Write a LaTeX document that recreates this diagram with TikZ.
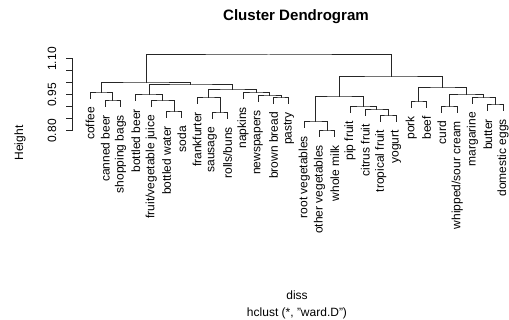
\documentclass[tikz,border=0pt]{standalone}
\usepackage{fontspec}
\setmainfont{Liberation Sans}
\tikzset{
  branch/.style={draw=black!85, line width=0.75pt},
  lab/.style={rotate=90, anchor=east, inner sep=0pt, font=\fontsize{9}{10}\selectfont},
  axlab/.style={rotate=90, inner sep=0pt, font=\fontsize{9}{10}\selectfont},
  ttl/.style={inner sep=0pt, font=\fontsize{11.3}{13}\selectfont\bfseries},
  sub/.style={inner sep=0pt, font=\fontsize{9}{10}\selectfont}
}
\newcommand\leafpt[4]{\coordinate (#1) at (#2,#3); \node[lab] (#1-t) at (#2,#3+8) {#4};}
\begin{document}
\begin{tikzpicture}[x=0.75pt,y=-0.75pt]
\useasboundingbox (0,0) rectangle (509,320);
% title and captions
\node[ttl] (title) at (296,17) {Cluster Dendrogram};
\node[sub] (diss) at (297,295) {diss};
\node[sub] (meth) at (297,313) {hclust (*, "ward.D")};
% axis
\node[axlab] (ylab) at (20,143) {Height};
\draw[branch] (72.7,59) -- (72.7,131);
\foreach \yy in {59,71,83,95,107,119,131} \draw[branch] (66,\yy) -- (72.7,\yy);
\node[axlab] (t110) at (52,59) {1.10};
\node[axlab] (t095) at (52,95) {0.95};
\node[axlab] (t080) at (52,131) {0.80};
% leaves
\leafpt{coffee}{90}{99}{coffee}
\leafpt{cbeer}{105.3}{107}{canned beer}
\leafpt{sbags}{120.6}{107}{shopping bags}
\leafpt{bbeer}{135.9}{101}{bottled beer}
\leafpt{juice}{151.2}{107}{fruit/vegetable juice}
\leafpt{water}{166.5}{118}{bottled water}
\leafpt{soda}{181.8}{118}{soda}
\leafpt{frank}{197.1}{104}{frankfurter}
\leafpt{saus}{212.4}{119}{sausage}
\leafpt{rolls}{227.7}{119}{rolls/buns}
\leafpt{napk}{243}{99}{napkins}
\leafpt{news}{258.3}{102}{newspapers}
\leafpt{bread}{273.6}{104}{brown bread}
\leafpt{pastry}{288.9}{104}{pastry}
\leafpt{rootv}{304.2}{128}{root vegetables}
\leafpt{othv}{319.5}{137}{other vegetables}
\leafpt{milk}{334.8}{137}{whole milk}
\leafpt{pip}{350.1}{113}{pip fruit}
\leafpt{citrus}{365.4}{116}{citrus fruit}
\leafpt{trop}{380.7}{122}{tropical fruit}
\leafpt{yog}{396}{122}{yogurt}
\leafpt{pork}{411.3}{108}{pork}
\leafpt{beef}{426.6}{108}{beef}
\leafpt{curd}{441.9}{113}{curd}
\leafpt{cream}{457.2}{113}{whipped/sour cream}
\leafpt{marg}{472.5}{104}{margarine}
\leafpt{butter}{487.8}{111}{butter}
\leafpt{eggs}{503.1}{111}{domestic eggs}
% merges
\coordinate (C1) at (112.95,101);
\coordinate (L1) at (101.475,93);
\coordinate (C3) at (174.15,112);
\coordinate (C2) at (162.675,101);
\coordinate (L2) at (149.29,95);
\coordinate (C4) at (220.05,113);
\coordinate (L3) at (208.575,98);
\coordinate (C6) at (281.25,98);
\coordinate (C5) at (269.775,96);
\coordinate (L4) at (256.39,93);
\coordinate (L34) at (232.48,90);
\coordinate (B) at (190.88,85);
\coordinate (A) at (146.18,83);
\coordinate (C7) at (327.15,131);
\coordinate (RV) at (315.675,122);
\coordinate (C9) at (388.35,116);
\coordinate (C8) at (376.875,110);
\coordinate (PF) at (363.49,107);
\coordinate (R1) at (339.58,97);
\coordinate (PB) at (418.95,102);
\coordinate (CW) at (449.55,107);
\coordinate (BE) at (495.45,105);
\coordinate (MBE) at (483.975,98);
\coordinate (DA) at (466.76,95);
\coordinate (R2) at (442.86,88);
\coordinate (R) at (391.22,77);
\coordinate (ROOT) at (268.7,55);
% branches
\draw[branch] (cbeer) |- (C1) -| (sbags);
\draw[branch] (coffee) |- (L1) -| (C1);
\draw[branch] (water) |- (C3) -| (soda);
\draw[branch] (juice) |- (C2) -| (C3);
\draw[branch] (bbeer) |- (L2) -| (C2);
\draw[branch] (saus) |- (C4) -| (rolls);
\draw[branch] (frank) |- (L3) -| (C4);
\draw[branch] (bread) |- (C6) -| (pastry);
\draw[branch] (news) |- (C5) -| (C6);
\draw[branch] (napk) |- (L4) -| (C5);
\draw[branch] (L3) |- (L34) -| (L4);
\draw[branch] (L2) |- (B) -| (L34);
\draw[branch] (L1) |- (A) -| (B);
\draw[branch] (othv) |- (C7) -| (milk);
\draw[branch] (rootv) |- (RV) -| (C7);
\draw[branch] (trop) |- (C9) -| (yog);
\draw[branch] (citrus) |- (C8) -| (C9);
\draw[branch] (pip) |- (PF) -| (C8);
\draw[branch] (RV) |- (R1) -| (PF);
\draw[branch] (pork) |- (PB) -| (beef);
\draw[branch] (curd) |- (CW) -| (cream);
\draw[branch] (butter) |- (BE) -| (eggs);
\draw[branch] (marg) |- (MBE) -| (BE);
\draw[branch] (CW) |- (DA) -| (MBE);
\draw[branch] (PB) |- (R2) -| (DA);
\draw[branch] (R1) |- (R) -| (R2);
\draw[branch] (A) |- (ROOT) -| (R);
\end{tikzpicture}
\end{document}
